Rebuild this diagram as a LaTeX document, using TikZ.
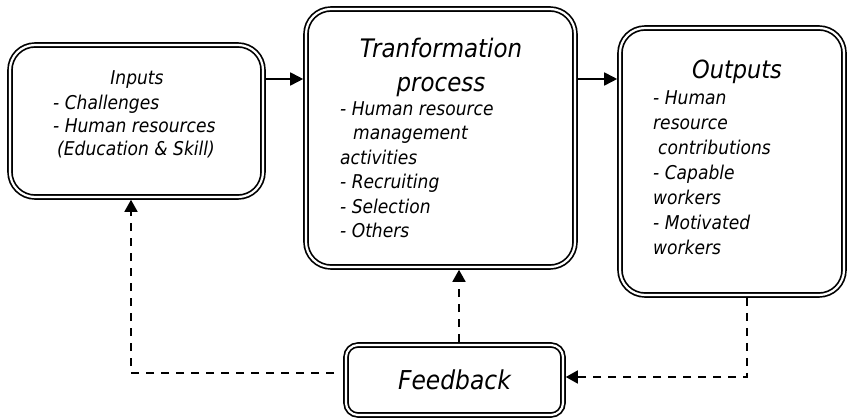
\documentclass[tikz,border=0pt]{standalone}
\usepackage{fontspec}
\setmainfont{DejaVu Sans}[FakeStretch=0.9]
\usetikzlibrary{arrows.meta}
\begin{document}
\begin{tikzpicture}[x=1pt,y=-1pt,
  box/.style={draw, double, double distance=2.2pt, line width=1.7pt,
    rounded corners=25pt, inner sep=0pt, outer sep=2.8pt},
  smallbox/.style={box, rounded corners=12pt},
  title/.style={inner sep=0pt, align=center, font=\fontsize{25.5}{34}\selectfont\itshape},
  smalltitle/.style={inner sep=0pt, font=\fontsize{19}{24}\selectfont\itshape},
  body/.style={inner sep=0pt, align=left, anchor=north west, font=\fontsize{19}{24.5}\selectfont\itshape},
  arr/.style={line width=1.7pt, -{Triangle[length=13pt,width=13pt]}},
  darr/.style={line width=1.7pt, dash pattern=on 8pt off 7pt, -{Triangle[length=12pt,width=13pt]}}
]
\useasboundingbox (0,0) rectangle (848,419);

% boxes
\node[box, minimum width=253pt, minimum height=152pt] (in) at (136.5,121) {};
\node[box, minimum width=269pt, minimum height=258pt] (tr) at (440.5,138) {};
\node[box, minimum width=224pt, minimum height=267pt] (out) at (732,161.5) {};
\node[smallbox, minimum width=217pt, minimum height=70pt,
      font=\fontsize{26}{30}\selectfont\itshape] (fb) at (454.5,380) {Feedback};

% texts
\node[smalltitle, anchor=north] (intitle) at (137,70) {Inputs};
\node[body, font=\fontsize{19}{23}\selectfont\itshape] (inbody) at (53,95)
  {- Challenges\\- Human resources\\\hspace*{4pt}(Education \& Skill)};

\node[title, anchor=north] (trtitle) at (441,38) {Tranformation\\process};
\node[body] (trbody) at (340,101)
  {- Human resource\\\hspace*{13pt}management\\activities\\- Recruiting\\- Selection\\- Others};

\node[title, anchor=north, font=\fontsize{25}{34}\selectfont\itshape] (outtitle) at (737,60) {Outputs};
\node[body, font=\fontsize{19}{25}\selectfont\itshape] (outbody) at (653,90)
  {- Human\\resource\\\hspace*{5pt}contributions\\- Capable\\workers\\- Motivated\\workers};

% helper coordinates
\coordinate (yarrow) at (0,79);
\coordinate (fbleft) at (131,373);
\coordinate (xmid) at (459,0);
\coordinate (rc) at (747,377);

% solid arrows
\draw[arr] (in.east |- yarrow) -- (tr.west |- yarrow);
\draw[arr] (tr.east |- yarrow) -- (out.west |- yarrow);

% dashed feedback arrows
\draw[darr, shorten <=9pt] (fb.west |- fbleft) -- (fbleft) -- (in.south -| fbleft);
\draw[darr] (fb.north -| xmid) -- (tr.south -| xmid);
\draw[darr] (out.south -| rc) -- (rc) -- (fb.east |- rc);
\end{tikzpicture}
\end{document}
